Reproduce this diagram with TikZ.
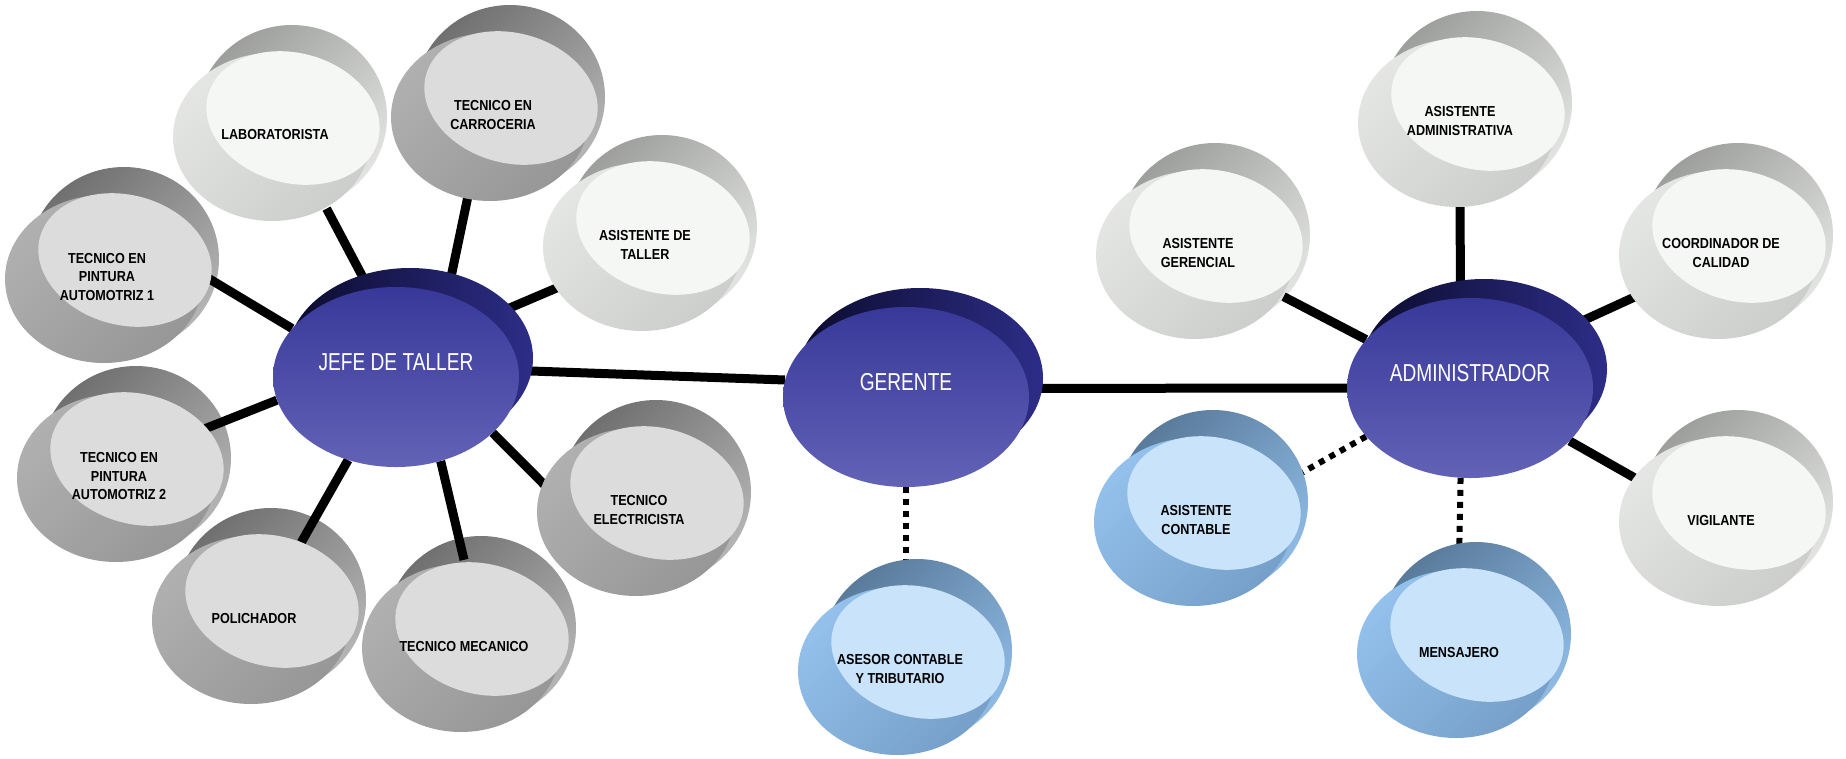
\documentclass[tikz,border=0pt]{standalone}
\usepackage{fontspec}
\usetikzlibrary{shapes.geometric,calc}
\newfontfamily\burbujafont{Liberation Sans}[FakeStretch=0.87]
\newfontfamily\hubfont{Liberation Sans}[FakeStretch=0.78]

\definecolor{hubarriba}{HTML}{38389A}
\definecolor{hubabajo}{HTML}{6262B6}
\definecolor{sombraA}{HTML}{0B0B2C}
\definecolor{sombraB}{HTML}{2D2D88}
\definecolor{grisA}{HTML}{707070}
\definecolor{grisB}{HTML}{B4B4B4}
\definecolor{grisC}{HTML}{B0B0B0}
\definecolor{grisD}{HTML}{979797}
\definecolor{grisE}{HTML}{DCDCDC}
\definecolor{claroA}{HTML}{9C9F9C}
\definecolor{claroB}{HTML}{E2E4E2}
\definecolor{claroC}{HTML}{E4E6E4}
\definecolor{claroD}{HTML}{CBCECB}
\definecolor{claroE}{HTML}{F5F7F5}
\definecolor{azulA}{HTML}{5A7B9B}
\definecolor{azulB}{HTML}{8EBAE4}
\definecolor{azulC}{HTML}{93C1EC}
\definecolor{azulD}{HTML}{76A0C9}
\definecolor{azulE}{HTML}{C9E3FB}

\pgfdeclarelayer{puntos}
\pgfdeclarelayer{fondo}
\pgfdeclarelayer{lineas}
\pgfsetlayers{puntos,fondo,lineas,main}

\tikzset{
  gris fondo/.style={top color=grisA, bottom color=grisB, shading angle=45},
  gris frente/.style={top color=grisC, bottom color=grisD, shading angle=45},
  gris centro/.style={fill=grisE},
  claro fondo/.style={top color=claroA, bottom color=claroB, shading angle=45},
  claro frente/.style={top color=claroC, bottom color=claroD, shading angle=45},
  claro centro/.style={fill=claroE},
  azul fondo/.style={top color=azulA, bottom color=azulB, shading angle=45},
  azul frente/.style={top color=azulC, bottom color=azulD, shading angle=45},
  azul centro/.style={fill=azulE},
  burbuja/.style={ellipse, minimum width=198pt, minimum height=172pt, inner sep=0pt,
    align=center, font=\burbujafont\bfseries\fontsize{14.5}{18.5}\selectfont},
  hub/.style={ellipse, minimum width=246pt, minimum height=180pt, inner sep=0pt,
    top color=hubarriba, bottom color=hubabajo},
  hub sombra/.style={left color=sombraA, right color=sombraB},
  hub texto/.style={text=white, font=\hubfont\fontsize{24.5}{28}\selectfont},
  rama/.style={line width=9pt},
  punteada/.style={line width=6pt, dash pattern=on 6pt off 6pt},
}

\newcommand{\burbuja}[4]{%
  \begin{pgfonlayer}{fondo}
    \shade[#3 fondo] ($(#2)+(17,-18)$) ellipse [x radius=95, y radius=92];
  \end{pgfonlayer}
  \shade[#3 frente] ($(#2)+(-3,2)$) ellipse [x radius=99, y radius=84];
  \fill[#3 centro] ($(#2)+(18,-17)$) ellipse [x radius=88, y radius=65, rotate=-15];
  \node[burbuja] (#1) at (#2) {#4};
}
\newcommand{\jefatura}[3]{%
  \shade[hub sombra] ($(#2)+(14,-19)$) ellipse [x radius=123, y radius=90];
  \node[hub] (#1) at (#2) {};
  \node[hub texto] (#1-t) at ($(#2)+(0,-15)$) {#3};
}

\begin{document}
\begin{tikzpicture}[x=1pt,y=-1pt]
  \useasboundingbox (0,0) rectangle (1846,758);

  \jefatura{jefe}{396,377}{JEFE DE TALLER}
  \jefatura{ger}{906,397}{GERENTE}
  \jefatura{adm}{1470,388}{ADMINISTRADOR}

  \burbuja{lab}{275,135}{claro}{LABORATORISTA}
  \burbuja{carr}{493,115}{gris}{TECNICO EN\\CARROCERIA}
  \burbuja{atal}{645,245}{claro}{ASISTENTE DE\\TALLER}
  \burbuja{pint1}{107,277}{gris}{TECNICO EN\\PINTURA\\AUTOMOTRIZ 1}
  \burbuja{pint2}{119,476}{gris}{TECNICO EN\\PINTURA\\AUTOMOTRIZ 2}
  \burbuja{pol}{254,618}{gris}{POLICHADOR}
  \burbuja{mec}{464,646}{gris}{TECNICO MECANICO}
  \burbuja{elec}{639,510}{gris}{TECNICO\\ELECTRICISTA}
  \burbuja{ases}{900,669}{azul}{ASESOR CONTABLE\\Y TRIBUTARIO}
  \burbuja{agen}{1198,253}{claro}{ASISTENTE\\GERENCIAL}
  \burbuja{aadm}{1460,121}{claro}{ASISTENTE\\ADMINISTRATIVA}
  \burbuja{coord}{1721,253}{claro}{COORDINADOR DE\\CALIDAD}
  \burbuja{vig}{1721,520}{claro}{VIGILANTE}
  \burbuja{asc}{1196,520}{azul}{ASISTENTE\\CONTABLE}
  \burbuja{mens}{1459,652}{azul}{MENSAJERO}

  \begin{pgfonlayer}{lineas}
    \draw[rama] (jefe.107) -- (lab.-55);
    \draw[rama] (jefe.58) -- (carr.-107);
    \draw[rama] (jefe.33) -- (atal.-154);
    \draw[rama] (jefe.155) -- (pint1.east);
    \draw[rama] (jefe.191) -- (pint2.29);
    \draw[rama] (jefe.240) -- (pol.58);
    \draw[rama] (jefe.-62) -- (mec.north);
    \draw[rama] (jefe.-30) -- (elec.165);
    \draw[rama] (jefe.3) -- (ger.172);
    \draw[rama] (ger.4) -- (adm.west);
    \draw[rama] (adm.155) -- (agen.-27);
    \draw[rama] (adm.96) -- (aadm.south);
    \draw[rama] (adm.32) -- (coord.-153);
    \draw[rama] (adm.-28) -- (vig.154);
  \end{pgfonlayer}
  \begin{pgfonlayer}{puntos}
    \draw[punteada] (ger.south) -- (ger.south |- ases.center);
    \draw[punteada] (adm.205) -- (asc.23);
    \draw[punteada] (adm.-96) -- (mens.north);
  \end{pgfonlayer}
\end{tikzpicture}
\end{document}
